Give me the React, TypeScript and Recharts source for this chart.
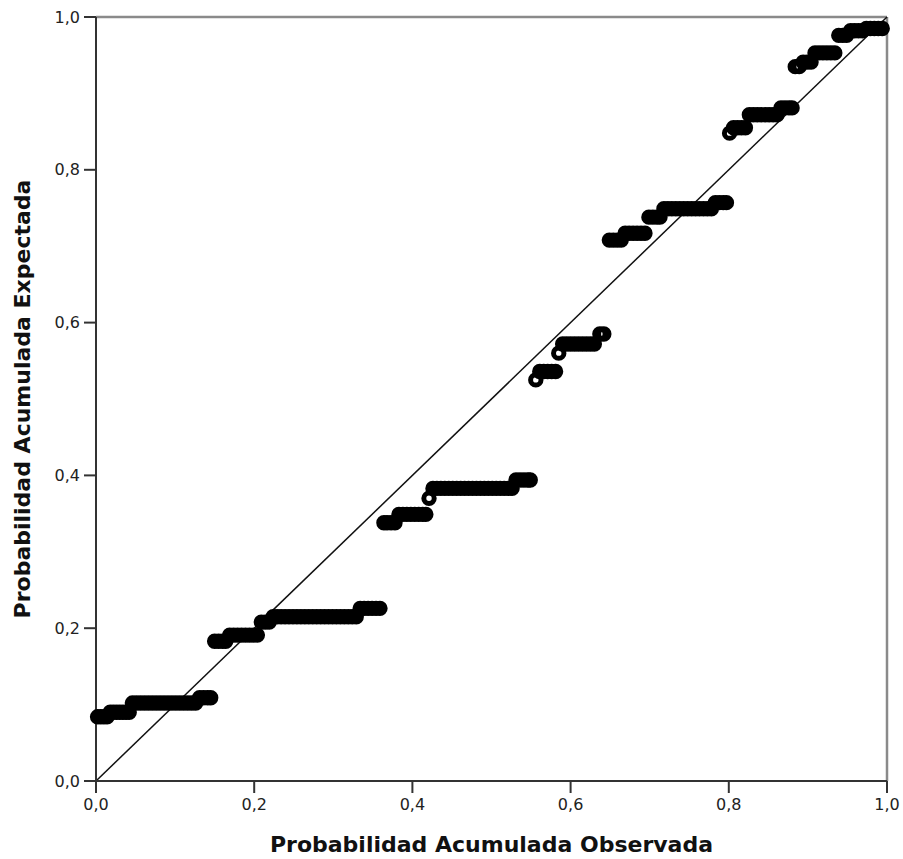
import React from 'react'
import { ScatterChart, Scatter, XAxis, YAxis, ReferenceLine, Label } from 'recharts'

// expected cumulative probability for each step of the P-P plot
const expectedLevels = [
  0.084, 0.09, 0.102, 0.109, 0.183, 0.191, 0.208, 0.215, 0.226, 0.338, 0.349, 0.37,
  0.383, 0.394, 0.525, 0.536, 0.56, 0.572, 0.585, 0.708, 0.717, 0.738, 0.749, 0.757,
  0.848, 0.855, 0.872, 0.881, 0.935, 0.941, 0.953, 0.976, 0.982, 0.985,
]

// observed cumulative probabilities, one list per step
const observedByLevel = [
  [0.002, 0.006, 0.01, 0.014],
  [0.018, 0.022, 0.026, 0.03, 0.034, 0.038, 0.042],
  [0.046, 0.051, 0.056, 0.061, 0.066, 0.071, 0.076, 0.081, 0.086, 0.091, 0.096, 0.101, 0.106, 0.111, 0.116, 0.121, 0.126],
  [0.131, 0.136, 0.141, 0.145],
  [0.15, 0.155, 0.16, 0.164],
  [0.169, 0.174, 0.179, 0.184, 0.189, 0.194, 0.199, 0.204],
  [0.209, 0.214, 0.219],
  [0.224, 0.229, 0.234, 0.239, 0.244, 0.249, 0.254, 0.259, 0.264, 0.269, 0.274, 0.279, 0.284, 0.289, 0.294, 0.299, 0.304, 0.309, 0.314, 0.319, 0.324, 0.329],
  [0.334, 0.339, 0.344, 0.349, 0.354, 0.359],
  [0.364, 0.368, 0.373, 0.378],
  [0.383, 0.388, 0.393, 0.398, 0.403, 0.408, 0.413, 0.417],
  [0.421],
  [0.426, 0.431, 0.436, 0.441, 0.446, 0.451, 0.456, 0.461, 0.466, 0.471, 0.476, 0.481, 0.486, 0.491, 0.496, 0.501, 0.506, 0.511, 0.516, 0.521, 0.526],
  [0.531, 0.536, 0.541, 0.546, 0.549],
  [0.556],
  [0.561, 0.566, 0.571, 0.576, 0.581],
  [0.585],
  [0.59, 0.595, 0.6, 0.605, 0.61, 0.615, 0.62, 0.625, 0.63],
  [0.637, 0.642],
  [0.649, 0.654, 0.659, 0.664],
  [0.669, 0.674, 0.679, 0.684, 0.689, 0.694],
  [0.699, 0.704, 0.709, 0.713],
  [0.718, 0.723, 0.728, 0.733, 0.738, 0.743, 0.748, 0.753, 0.758, 0.763, 0.768, 0.773, 0.778],
  [0.783, 0.788, 0.793, 0.797],
  [0.801],
  [0.806, 0.811, 0.816, 0.821],
  [0.826, 0.831, 0.836, 0.841, 0.846, 0.851, 0.856, 0.861],
  [0.866, 0.871, 0.876, 0.88],
  [0.884, 0.889],
  [0.894, 0.899, 0.904],
  [0.909, 0.914, 0.919, 0.924, 0.929, 0.934],
  [0.939, 0.944, 0.949],
  [0.954, 0.959, 0.964, 0.969],
  [0.974, 0.979, 0.984, 0.989, 0.994],
]

const ticks = [0, 0.2, 0.4, 0.6, 0.8, 1]

const points = observedByLevel.flatMap((xs, i) =>
  xs.map((x) => ({ observed: x, expected: expectedLevels[i] }))
)

const fmt = (v: number) => v.toFixed(1).replace('.', ',')
const font = '"DejaVu Sans", sans-serif'

const Ring = (props: any) => {
  const { cx, cy } = props
  if (cx == null || cy == null) return null
  return <circle cx={cx} cy={cy} r={5.2} fill="none" stroke="#000" strokeWidth={5} />
}

export default function App() {
  return (
    // pinned to the top-left corner so the page never grows a scrollbar
    <div style={{ position: 'fixed', left: 0, top: 0, width: 903, height: 859, background: '#fff' }}>
      <ScatterChart
        width={903}
        height={859}
        margin={{ top: 17, right: 16, left: 8, bottom: 0 }}
        style={{ fontFamily: font }}
      >
        <XAxis
          type="number"
          dataKey="observed"
          domain={[0, 1]}
          ticks={ticks}
          tickFormatter={fmt}
          height={78}
          tickSize={12}
          tickMargin={6}
          stroke="#333"
          strokeWidth={2}
          interval={0}
          tick={{ fill: '#222', fontSize: 16, fontFamily: font }}
        >
          <Label
            value="Probabilidad Acumulada Observada"
            position="insideBottom"
            offset={7}
            style={{ fontSize: 22, fontWeight: 'bold', fill: '#111', fontFamily: font }}
          />
        </XAxis>
        <YAxis
          type="number"
          dataKey="expected"
          domain={[0, 1]}
          ticks={ticks}
          tickFormatter={fmt}
          width={88}
          tickSize={12}
          tickMargin={4}
          stroke="#333"
          strokeWidth={2}
          interval={0}
          tick={{ fill: '#222', fontSize: 16, fontFamily: font }}
        >
          <Label
            value="Probabilidad Acumulada Expectada"
            angle={-90}
            position="insideLeft"
            offset={14}
            style={{ textAnchor: 'middle', fontSize: 22, fontWeight: 'bold', fill: '#111', fontFamily: font }}
          />
        </YAxis>
        <ReferenceLine y={1} stroke="#8a8a8a" strokeWidth={2.5} />
        <ReferenceLine x={1} stroke="#8a8a8a" strokeWidth={2.5} />
        <Scatter data={points} shape={<Ring />} isAnimationActive={false} />
        <ReferenceLine
          segment={[{ x: 0, y: 0 }, { x: 1, y: 1 }]}
          stroke="#111"
          strokeWidth={1.5}
        />
      </ScatterChart>
    </div>
  )
}
